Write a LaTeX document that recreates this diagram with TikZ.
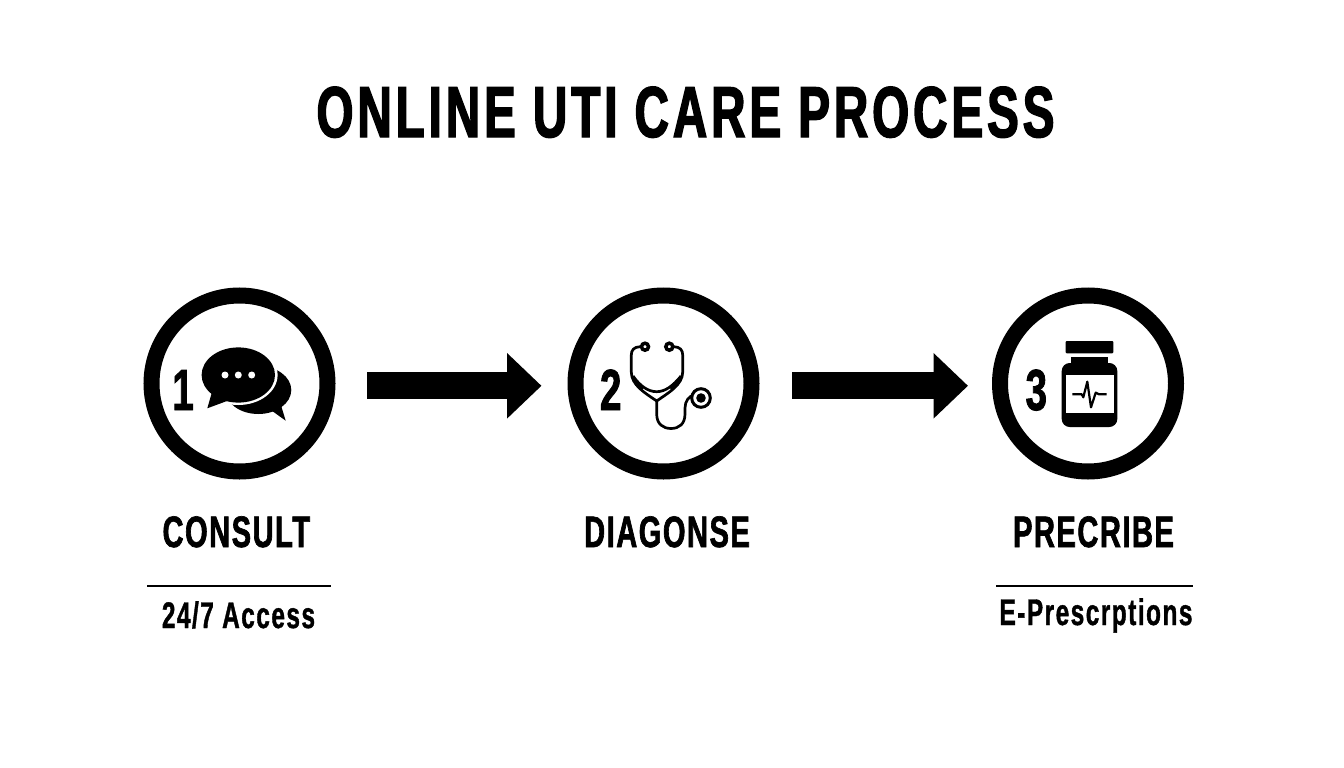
\documentclass[tikz,border=0pt]{standalone}
\usepackage{fontspec}
\newfontfamily\titlefamily{Liberation Sans Bold}[FakeStretch=0.66,FakeBold=2,LetterSpace=5.5]
\newfontfamily\labelfamily{Liberation Sans Bold}[FakeStretch=0.66,FakeBold=1.5,LetterSpace=3.5]
\newfontfamily\notefamily{Liberation Sans Bold}[FakeStretch=0.66,FakeBold=1,LetterSpace=4]
\usetikzlibrary{arrows.meta}
\tikzset{
	stepring/.style={circle, draw=black, line width=16pt, minimum size=176pt, inner sep=0pt},
	flowarrow/.style={line width=27pt, -{Triangle[length=34.5pt, width=63.5pt]}},
	headrule/.style={line width=2.8pt},
	tube/.style={line width=2.7pt, line join=round},
	titletext/.style={anchor=base, inner sep=0pt, font=\fontsize{72}{80}\titlefamily},
	steptext/.style={anchor=base, inner sep=0pt, font=\fontsize{44}{50}\labelfamily},
	subtext/.style={anchor=base, inner sep=0pt, font=\fontsize{37}{42}\notefamily},
	numtext/.style={anchor=base, inner sep=0pt, font=\fontsize{58}{64}\labelfamily},
}

\begin{document}
\begin{tikzpicture}[x=1pt, y=-1pt]
		%%%%% START %%%%%
		\useasboundingbox[fill=white] (0, 0) rectangle (1344, 768);
		
		\node[titletext] (title) at (685.5, 137) {ONLINE UTI CARE PROCESS};
		
		\node[stepring] (consult) at (239.5, 383.5) {};
		\node[stepring] (diagnose) at (663.5, 383.5) {};
		\node[stepring] (prescribe) at (1088, 383.5) {};
		
		\draw[flowarrow, shorten <=31.5pt, shorten >=26pt] ([yshift=-2.3pt]consult.east) -- ([yshift=-2.3pt]diagnose.west);
		\draw[flowarrow, shorten <=32.5pt, shorten >=24pt] ([yshift=-2.3pt]diagnose.east) -- ([yshift=-2.3pt]prescribe.west);
		
		\node[numtext] (numone) at (183, 410) {1};
		\node[numtext] (numtwo) at (610.7, 410) {2};
		\node[numtext] (numthree) at (1036.3, 410) {3};
		
		% chat bubbles
		\fill (258.3, 390) ellipse (33 and 24);
		\fill (268, 408) -- (285.7, 420.7) -- (280, 402) -- cycle;
		\fill[white] (238.3, 375) ellipse (39.3 and 30);
		\fill (238.3, 375) ellipse (36.7 and 27.6);
		\fill (212, 392) -- (207.3, 408.3) -- (227, 401) -- cycle;
		\foreach \dotx in {225, 238.3, 251.7}
			\fill[white] (\dotx, 375) circle (3.5);
		
		% stethoscope
		\draw[tube] (640, 346.7) .. controls (634, 347) and (631.3, 350) .. (631.3, 355) -- (631.3, 372) .. controls (631.3, 385) and (645, 393) .. (656.7, 401) .. controls (668, 393) and (682.7, 385) .. (682.7, 372) -- (682.7, 355) .. controls (682.7, 350) and (680, 347) .. (674, 346.7);
		\draw[tube] (633, 376) .. controls (640, 386) and (648, 391.7) .. (656.7, 391.7) .. controls (665, 391.7) and (673, 386) .. (681, 376);
		\fill (631.7, 375) -- (644, 386.7) -- (641.7, 391) -- (635, 385) -- cycle;
		\fill (681.7, 375) -- (669.3, 386.7) -- (671.7, 391) -- (678.3, 385) -- cycle;
		\draw[tube] (656.7, 401) -- (656.7, 414) .. controls (656.7, 424) and (663, 428.5) .. (671, 428.5) .. controls (679, 428.5) and (685, 424) .. (685, 414) -- (685, 408) .. controls (685, 401) and (689, 396) .. (694, 395);
		\draw[fill=white, line width=3.5pt] (645, 346.7) circle (3.5);
		\draw[fill=white, line width=3.5pt] (669.3, 346.7) circle (3.5);
		\draw[fill=white, line width=3pt] (701, 398) circle (9.3);
		\fill (701, 398) circle (4.8);
		
		% bottle
		\fill[rounded corners=1pt] (1065.7, 341) rectangle (1113.3, 353.3);
		\fill (1071, 357.3) rectangle (1108.3, 364);
		\fill[rounded corners=8pt] (1061.7, 363) rectangle (1117.3, 427);
		\fill[white] (1066, 375) rectangle (1114, 413.3);
		\draw[line width=2.2pt, line join=round] (1072.3, 394.3) -- (1081.7, 394.3) -- (1083.3, 397.3) -- (1087.3, 381.7) -- (1091, 407.3) -- (1095.7, 392.7) -- (1099, 394.3) -- (1106.7, 394.3);
		
		% labels
		\node[steptext] (consultlabel) at (236.3, 547) {CONSULT};
		\node[steptext] (diagnoselabel) at (667, 547) {DIAGONSE};
		\node[steptext] (prescribelabel) at (1093.5, 547) {PRECRIBE};
		
		\coordinate (ruleAleft) at (147, 586);
		\coordinate (ruleAright) at (331, 586);
		\coordinate (ruleCleft) at (996, 586);
		\coordinate (ruleCright) at (1193, 586);
		\draw[headrule] (ruleAleft) -- (ruleAright);
		\draw[headrule] (ruleCleft) -- (ruleCright);
		
		\node[subtext] (consultnote) at (238.5, 628) {24/7 Access};
		\node[subtext] (prescribenote) at (1096, 625) {E-Prescrptions};
		%%%%% END %%%%%
	\end{tikzpicture}
\end{document}
